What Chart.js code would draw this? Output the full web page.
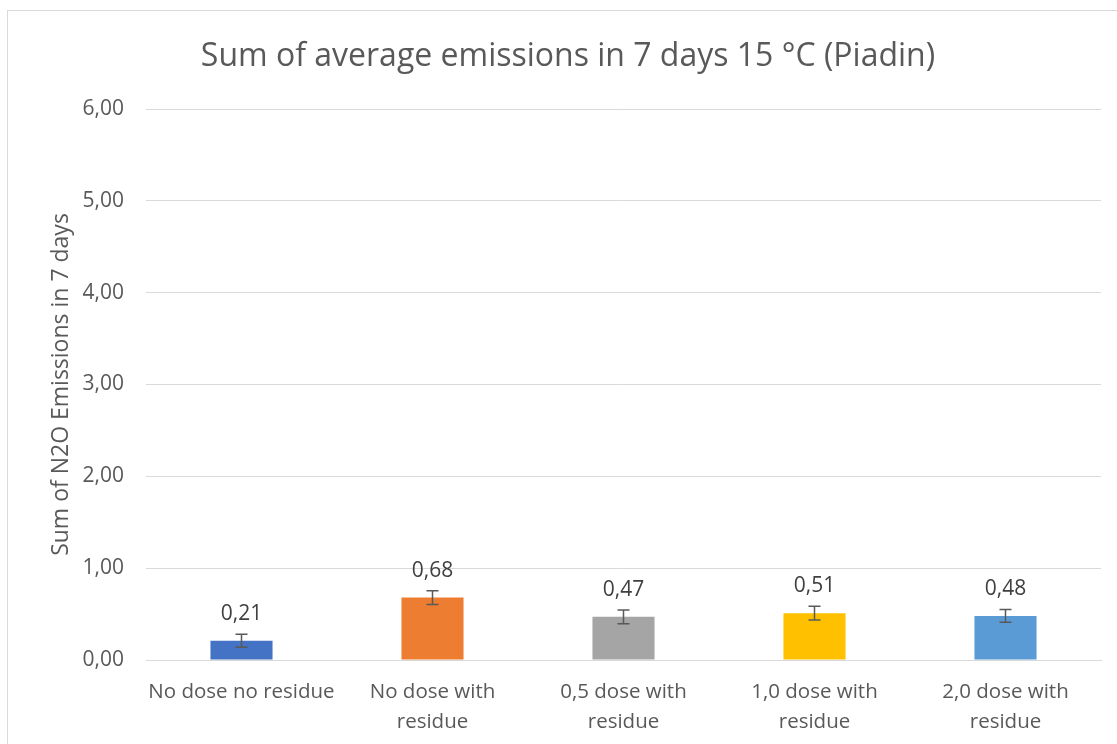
<!DOCTYPE html>
<html><head><meta charset="utf-8">
<script src="https://cdn.jsdelivr.net/npm/chart.js@4"></script>
<style>html,body{margin:0;padding:0;background:#fff;}#wrap{width:1117px;height:744px;position:relative;}</style>
</head><body><div id="wrap"><canvas id="c" width="1117" height="744"></canvas></div>
<script>
const categories = [["No dose no residue"], ["No dose with", "residue"], ["0,5 dose with", "residue"], ["1,0 dose with", "residue"], ["2,0 dose with", "residue"]];
const values = [0.21, 0.68, 0.47, 0.51, 0.48];
const errors = [0.07, 0.075, 0.075, 0.075, 0.07];
const barColors = ["#4472C4", "#ED7D31", "#A5A5A5", "#FFC000", "#5B9BD5"];
const yTicks = [0, 1, 2, 3, 4, 5, 6];
const FONT = "'Open Sans', sans-serif";

const fmt = v => v.toFixed(2).replace('.', ',');

const decor = {
  id: 'decor',
  beforeDraw(chart) {
    const ctx = chart.ctx;
    ctx.save();
    ctx.fillStyle = '#fff';
    ctx.fillRect(0, 0, chart.width, chart.height);
    ctx.strokeStyle = '#D9D9D9';
    ctx.lineWidth = 1;
    ctx.strokeRect(7.5, 10.5, 1300, 900);
    ctx.fillStyle = '#595959';
    ctx.font = "32px " + FONT;
    ctx.textAlign = 'center';
    ctx.textBaseline = 'middle';
    ctx.fillText('Sum of average emissions in 7 days 15 °C (Piadin)', 568, 57);
    ctx.restore();
  },
  afterDatasetsDraw(chart) {
    const ctx = chart.ctx;
    const meta = chart.getDatasetMeta(0);
    const y = chart.scales.y;
    ctx.save();
    ctx.strokeStyle = '#595959';
    ctx.lineWidth = 1.5;
    meta.data.forEach((bar, i) => {
      const x = bar.x;
      const yt = y.getPixelForValue(values[i] + errors[i]);
      const yb = y.getPixelForValue(values[i] - errors[i]);
      ctx.beginPath();
      ctx.moveTo(x, yt); ctx.lineTo(x, yb);
      ctx.moveTo(x - 6, yt); ctx.lineTo(x + 6, yt);
      ctx.moveTo(x - 6, yb); ctx.lineTo(x + 6, yb);
      ctx.stroke();
    });
    ctx.fillStyle = '#404040';
    ctx.font = "21px " + FONT;
    ctx.textAlign = 'center';
    ctx.textBaseline = 'middle';
    meta.data.forEach((bar, i) => {
      ctx.fillText(fmt(values[i]), bar.x, bar.y - 27);
    });
    ctx.restore();
  }
};

new Chart(document.getElementById('c'), {
  type: 'bar',
  data: {
    labels: categories,
    datasets: [{
      data: values,
      backgroundColor: barColors,
      borderWidth: 0,
      categoryPercentage: 1,
      barPercentage: 0.325
    }]
  },
  options: {
    responsive: false,
    animation: false,
    layout: { padding: { top: 109, right: 16, left: 0, bottom: 0 } },
    plugins: { legend: { display: false }, tooltip: { enabled: false }, title: { display: false } },
    scales: {
      x: {
        grid: { display: false, drawTicks: false },
        border: { color: '#D9D9D9', width: 1 },
        ticks: { color: '#595959', font: { family: FONT, size: 20.5, lineHeight: 1.42 }, padding: 18, maxRotation: 0, autoSkip: false },
        afterFit(s) { s.height = 84; }
      },
      y: {
        min: 0, max: 6,
        afterBuildTicks(s) { s.ticks = yTicks.map(v => ({ value: v })); },
        grid: { color: '#D9D9D9', drawTicks: false },
        border: { display: false },
        ticks: { color: '#595959', font: { family: FONT, size: 21 }, padding: 22, callback: v => fmt(v) },
        title: { display: true, text: 'Sum of N2O Emissions in 7 days', color: '#595959', font: { family: FONT, size: 23 }, padding: { top: 48, bottom: 0 } },
        afterFit(s) { s.width = 146; }
      }
    }
  },
  plugins: [decor]
});
</script></body></html>
